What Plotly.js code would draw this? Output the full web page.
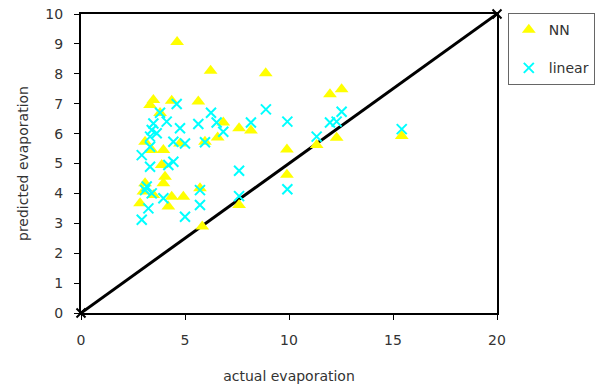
<!DOCTYPE html>
<html>
<head>
<meta charset="utf-8">
<script src="https://cdn.plot.ly/plotly-3.0.1.min.js"></script>
<style>html,body{margin:0;padding:0;background:#fff;}#chart{width:608px;height:387px;}</style>
</head>
<body>
<div id="chart"></div>
<script>
// NN predictions
const nnActual = [4.62, 6.23, 8.88, 3.32, 3.48, 4.36, 5.64, 3.80, 6.84, 7.60, 8.17, 6.57, 5.96, 3.08, 4.76, 3.96, 3.40, 9.90, 3.88, 4.04, 3.96, 3.08, 3.00, 2.84, 3.48, 4.36, 4.92, 4.20, 5.72, 9.90, 7.60, 5.83, 11.97, 12.53, 11.33, 12.29, 15.42];
const nnPred   = [9.06, 8.10, 8.02, 6.96, 7.12, 7.10, 7.07, 6.69, 6.37, 6.18, 6.10, 5.87, 5.73, 5.73, 5.67, 5.45, 5.45, 5.47, 4.95, 4.56, 4.34, 4.34, 4.06, 3.67, 3.95, 3.89, 3.89, 3.56, 4.17, 4.62, 3.61, 2.89, 7.32, 7.48, 5.62, 5.86, 5.92];
// linear predictions
const linActual = [4.60, 3.80, 4.12, 3.48, 5.64, 4.76, 3.40, 3.64, 3.32, 4.44, 5.00, 5.96, 2.92, 3.32, 3.32, 4.20, 4.44, 3.16, 3.08, 3.40, 3.96, 3.24, 2.92, 5.00, 5.72, 5.72, 6.25, 6.52, 6.84, 8.17, 8.89, 9.92, 7.60, 7.60, 9.92, 11.33, 11.97, 12.29, 12.53, 15.42];
const linPred   = [6.99, 6.70, 6.40, 6.34, 6.32, 6.18, 6.12, 6.01, 5.90, 5.73, 5.67, 5.71, 5.28, 5.56, 4.89, 4.95, 5.06, 4.23, 4.11, 4.00, 3.84, 3.50, 3.12, 3.22, 4.11, 3.61, 6.70, 6.37, 6.06, 6.37, 6.81, 6.40, 4.76, 3.91, 4.14, 5.90, 6.37, 6.40, 6.73, 6.15];
// reference line
const refX = [0, 20];
const refY = [0, 10];
const xTicks = [0, 5, 10, 15, 20];
const yTicks = [0, 1, 2, 3, 4, 5, 6, 7, 8, 9, 10];

const font = {family: 'DejaVu Sans, Arial, sans-serif', size: 14, color: '#333'};

const traces = [
  {x: refX, y: refY, mode: 'lines+markers', type: 'scatter', showlegend: false,
   line: {color: '#000', width: 3}, marker: {symbol: 'x-thin-open', size: 9, color: '#000', line: {width: 2, color: '#000'}}, cliponaxis: false},
  {x: nnActual, y: nnPred, mode: 'markers', type: 'scatter', name: 'NN', legendgroup: 'a',
   marker: {symbol: 'triangle-up', size: 12, color: '#FFFF00'}, cliponaxis: false},
  {x: linActual, y: linPred, mode: 'markers', type: 'scatter', name: 'linear', legendgroup: 'b',
   marker: {symbol: 'x-thin-open', size: 10, color: '#00FFFF', line: {width: 2, color: '#00FFFF'}}, cliponaxis: false}
];

const layout = {
  width: 608, height: 387,
  margin: {l: 81, r: 111, t: 14, b: 74},
  paper_bgcolor: '#fff', plot_bgcolor: '#fff',
  font: font,
  showlegend: true,
  legend: {x: 1.026, y: 1.003, xanchor: 'left', yanchor: 'top', bordercolor: '#666', borderwidth: 1,
           font: font, tracegroupgap: 17, bgcolor: '#fff'},
  xaxis: {range: [0, 20], tickvals: xTicks, ticks: 'outside', ticklen: 5, tickcolor: '#000', tickwidth: 1,
          ticklabelstandoff: 8,
          showgrid: false, zeroline: false, showline: true, linecolor: '#000', linewidth: 2, mirror: true,
          title: {text: 'actual evaporation', font: font, standoff: 24}, tickfont: font},
  yaxis: {range: [0, 10], tickvals: yTicks, ticks: 'outside', ticklen: 5, tickcolor: '#000', tickwidth: 1,
          ticklabelstandoff: 8,
          showgrid: false, zeroline: false, showline: true, linecolor: '#000', linewidth: 2, mirror: true,
          title: {text: 'predicted evaporation', font: font, standoff: 13}, tickfont: font}
};

Plotly.newPlot('chart', traces, layout, {staticPlot: true, displayModeBar: false});
</script>
</body>
</html>
